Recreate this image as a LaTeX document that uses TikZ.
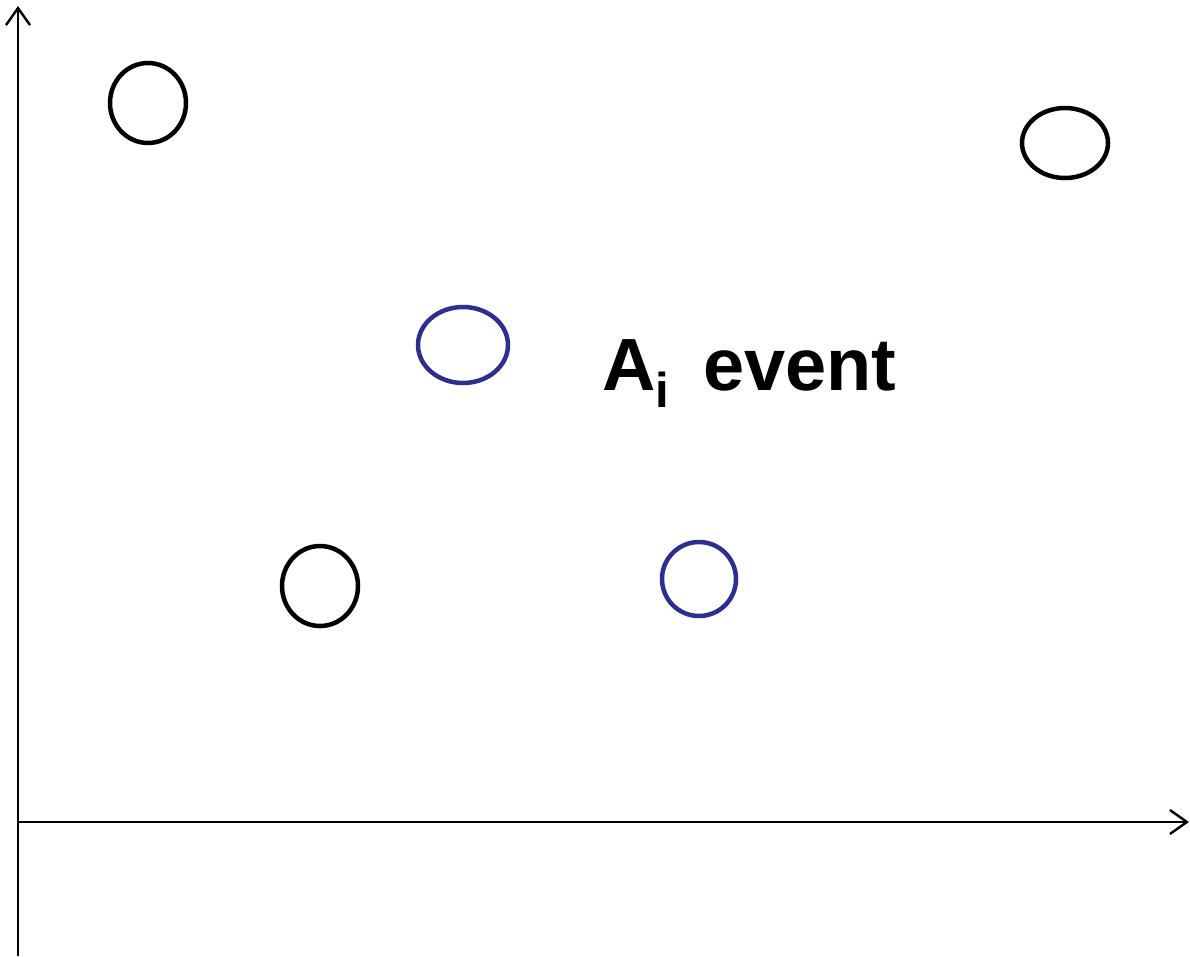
\documentclass[tikz,border=0pt]{standalone}
\usepackage{fontspec}
\setmainfont{Liberation Sans}
\usetikzlibrary{arrows.meta}
\definecolor{evblue}{RGB}{46,46,140}
\begin{document}
\begin{tikzpicture}[x=1pt,y=-1pt,
  axis/.style={line width=2.4pt,-{Straight Barb[length=17pt,width=24pt,line width=2.4pt]}},
  blob/.style={draw=black,line width=4.5pt},
  bblob/.style={blob,draw=evblue}]
\useasboundingbox (0,0) rectangle (1190,956);
\coordinate (o) at (18,822);
\coordinate (ybot) at (18,956);
\coordinate (ytop) at (18,6);
\coordinate (xleft) at (18,822);
\coordinate (xright) at (1189,822);
\draw[axis] (ybot) -- (ytop);
\draw[axis] (xleft) -- (xright);
\draw[blob] (148,103) ellipse [x radius=38, y radius=40];
\draw[blob] (1065,143) ellipse [x radius=43, y radius=35];
\draw[bblob] (463,345) ellipse [x radius=45, y radius=38];
\draw[blob] (320,586) ellipse [x radius=38, y radius=40];
\draw[bblob] (699,579) ellipse [x radius=37, y radius=37];
\node[anchor=base west,inner sep=0pt,font=\fontsize{74}{80}\selectfont\bfseries] (lbl) at (602,390)
  {A\raisebox{-17pt}{\fontsize{49}{50}\selectfont i}\hspace{34pt}event};
\end{tikzpicture}
\end{document}
